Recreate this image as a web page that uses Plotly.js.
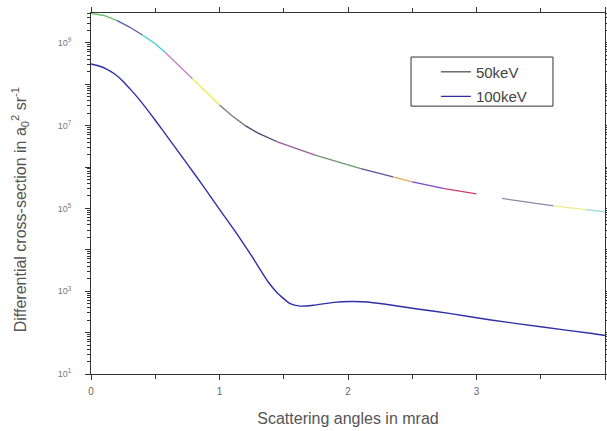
<!DOCTYPE html>
<html>
<head>
<meta charset="utf-8">
<script src="https://cdn.plot.ly/plotly-3.0.1.min.js"></script>
<style>html,body{margin:0;padding:0;background:#fff;}#chart{width:607px;height:431px;}</style>
</head>
<body>
<div id="chart"></div>
<script>
// 50 keV curve (scattering angle in mrad, cross-section)
var x50 = [0, 0.1, 0.2, 0.3, 0.4, 0.5, 0.58, 0.7, 0.79, 0.9, 1.0, 1.1, 1.2, 1.3, 1.45, 1.6, 1.75, 1.9, 2.1, 2.35, 2.5, 2.75, 3.0, 3.2, 3.4, 3.6, 3.85, 4.0];
var y50 = [5.13e9, 4.57e9, 3.47e9, 2.4e9, 1.55e9, 9.5e8, 5.75e8, 2.57e8, 1.35e8, 6.3e7, 3.16e7, 1.7e7, 1.0e7, 6.6e6, 4.07e6, 2.75e6, 1.9e6, 1.38e6, 9.1e5, 5.75e5, 4.37e5, 3.0e5, 2.24e5, 1.74e5, 1.41e5, 1.15e5, 9.3e4, 8.3e4];
// colour pieces of the 50 keV curve: [start, end] in mrad
var segStart = [0, 0.2, 0.4, 0.58, 0.79, 1.0, 1.2, 1.45, 1.75, 2.1, 2.35, 2.5, 2.75, 3.2, 3.6, 3.85];
var segEnd   = [0.2, 0.4, 0.58, 0.79, 1.0, 1.2, 1.45, 1.75, 2.1, 2.35, 2.5, 2.75, 3.0, 3.6, 3.85, 4.0];
var segColor = ['#66c266', '#5a5aa8', '#3cd0d0', '#c77cc7', '#ecec50', '#7a7a7a', '#45456e', '#9a5a9a', '#6c9a6c', '#55559a', '#e0a85a', '#7a48cc', '#d03c6c', '#8a8aa6', '#eeee8a', '#a0dede'];

// 100 keV curve
var x100 = [0, 0.0625, 0.125, 0.1875, 0.25, 0.3125, 0.375, 0.5, 0.625, 0.75, 0.875, 1.0, 1.125, 1.25, 1.375, 1.45, 1.55, 1.625, 1.73, 1.89, 2.02, 2.15, 2.28, 2.41, 2.54, 2.8, 3.1, 3.5, 3.9, 4.0];
var y100 = [3.09e8, 2.75e8, 2.29e8, 1.74e8, 1.17e8, 7.2e7, 4.3e7, 1.35e7, 4.0e6, 1.17e6, 3.4e5, 9.5e4, 2.7e4, 7.1e3, 1.74e3, 910, 500, 436, 457, 537, 562, 550, 490, 427, 372, 288, 204, 138, 95, 85];

var seriesNames = ['50keV', '100keV'];
var xTitle = 'Scattering angles in mrad';
var yTitle = 'Differential cross-section in a<sub>0</sub><sup>2</sup> sr<sup>-1</sup>';
var xTickVals = [0, 1, 2, 3, 4];
var xTickText = ['0', '1', '2', '3', '4'];
var yTickVals = [1e1, 1e2, 1e3, 1e4, 1e5, 1e6, 1e7, 1e8, 1e9];
var yTickText = ['10<sup>1</sup>', '', '10<sup>3</sup>', '', '10<sup>5</sup>', '', '10<sup>7</sup>', '', '10<sup>9</sup>'];

var traces = [];
for (var s = 0; s < segStart.length; s++) {
  var sx = [], sy = [];
  for (var i = 0; i < x50.length; i++) {
    if (x50[i] >= segStart[s] - 1e-9 && x50[i] <= segEnd[s] + 1e-9) { sx.push(x50[i]); sy.push(y50[i]); }
  }
  traces.push({x: sx, y: sy, mode: 'lines', showlegend: false, hoverinfo: 'skip',
    line: {color: segColor[s], width: 1.3}});
}
// legend entry for the 50 keV curve
traces.push({x: [null], y: [null], mode: 'lines', name: seriesNames[0], legendgroup: 'a',
  line: {color: '#222222', width: 1}});
traces.push({x: x100, y: y100, mode: 'lines', name: seriesNames[1], legendgroup: 'b',
  line: {color: '#2f2fa8', width: 1.4, shape: 'spline', smoothing: 0.5}});

// minor ticks on log axis
var yMinor = [];
for (var d = 1; d <= 9; d++) { for (var m = 2; m <= 9; m++) { yMinor.push(m * Math.pow(10, d)); } }

var layout = {
  width: 607, height: 431,
  margin: {l: 91, r: 2, t: 13, b: 57},
  paper_bgcolor: '#ffffff', plot_bgcolor: '#ffffff',
  font: {family: 'Liberation Sans, Arial, sans-serif', color: '#555555'},
  showlegend: true,
  legend: {x: 0.671, y: 0.882, xanchor: 'left', yanchor: 'top', bgcolor: 'rgba(0,0,0,0)',
    borderwidth: 0, font: {size: 15, color: '#444444'},
    tracegroupgap: 2, itemwidth: 30},
  shapes: [{type: 'rect', xref: 'paper', yref: 'paper', x0: 0.6226, x1: 0.8988, y0: 0.742, y1: 0.878,
    line: {color: '#333333', width: 1}, fillcolor: 'rgba(0,0,0,0)', layer: 'above'}],
  annotations: [{text: yTitle, textangle: -90, xref: 'paper', yref: 'paper', x: -0.139, y: 0.455,
    xanchor: 'center', yanchor: 'middle', showarrow: false, font: {size: 16, color: '#555555'}}],
  xaxis: {
    range: [0, 4], showgrid: false, zeroline: false,
    showline: true, linecolor: '#333333', linewidth: 1, mirror: 'allticks',
    ticks: 'outside', ticklen: 5, tickcolor: '#333333',
    tickmode: 'array', tickvals: xTickVals, ticktext: xTickText,
    tickfont: {size: 10, color: '#666666'}, ticklabelstandoff: 3,
    minor: {tickmode: 'array', tickvals: [0.5, 1.5, 2.5, 3.5], ticks: 'outside', ticklen: 4, tickcolor: '#333333'},
    title: {text: xTitle, font: {size: 16, color: '#555555'}, standoff: 16}
  },
  yaxis: {
    type: 'log', range: [1, 9.72], showgrid: false, zeroline: false,
    showline: true, linecolor: '#333333', linewidth: 1, mirror: 'allticks',
    ticks: 'outside', ticklen: 5, tickcolor: '#333333',
    tickmode: 'array', tickvals: yTickVals, ticktext: yTickText,
    tickfont: {size: 9, color: '#777777'}, ticklabelstandoff: 12,
    minor: {tickmode: 'array', tickvals: yMinor, ticks: 'outside', ticklen: 3, tickcolor: '#333333'}
  }
};

Plotly.newPlot('chart', traces, layout, {staticPlot: true, displayModeBar: false});
</script>
</body>
</html>
